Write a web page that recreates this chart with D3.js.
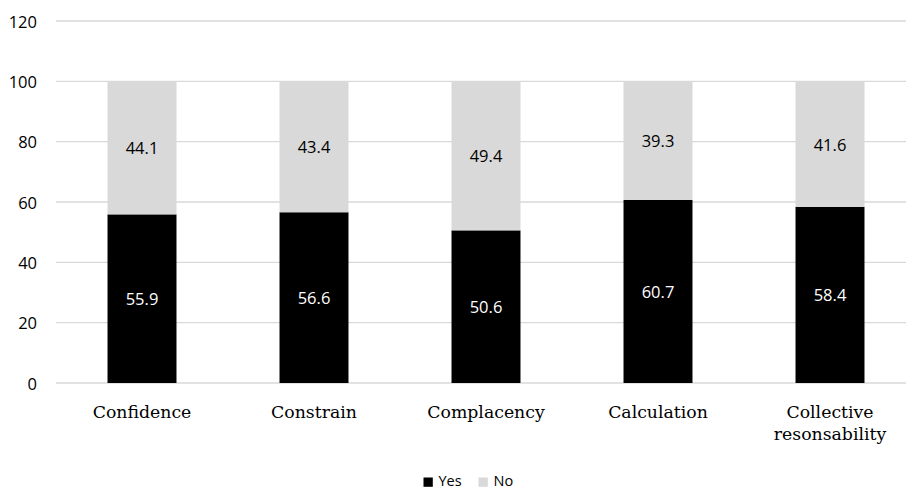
<!DOCTYPE html>
<html><head><meta charset="utf-8">
<script src="https://cdn.jsdelivr.net/npm/d3@7"></script>
<style>
html,body{margin:0;padding:0;background:#fff;}
svg{display:block;}
</style>
</head><body>
<svg id="chart" width="906" height="489"></svg>
<script>
const categories = ["Confidence", "Constrain", "Complacency", "Calculation", "Collective resonsability"];
const categoryLines = [["Confidence"], ["Constrain"], ["Complacency"], ["Calculation"], ["Collective", "resonsability"]];
const yesValues = [55.9, 56.6, 50.6, 60.7, 58.4];
const noValues = [44.1, 43.4, 49.4, 39.3, 41.6];
const yTicks = [0, 20, 40, 60, 80, 100, 120];
const seriesNames = ["Yes", "No"];
const seriesColors = ["#000000", "#d9d9d9"];

const svg = d3.select("#chart");
const y = d3.scaleLinear().domain([0, 120]).range([383, 21]);
const x = d3.scaleBand().domain(categories).range([56, 916]).paddingInner(0).paddingOuter(0);
const barW = x.bandwidth() * 0.401;

// gridlines
svg.append("g").selectAll("line").data(yTicks).join("line")
  .attr("x1", 56).attr("x2", 916)
  .attr("y1", d => y(d)).attr("y2", d => y(d))
  .attr("stroke", "#d9d9d9").attr("stroke-width", 1.3);

// y tick labels
svg.append("g").selectAll("text").data(yTicks).join("text")
  .attr("x", 37).attr("y", d => y(d))
  .attr("text-anchor", "end").attr("dominant-baseline", "central")
  .attr("font-family", "'Open Sans', sans-serif").attr("font-size", 16.5)
  .attr("fill", "#000").text(d => d);

const stacked = categories.map((c, i) => ({cat: c, yes: yesValues[i], no: noValues[i]}));
const series = d3.stack().keys(["yes", "no"])(stacked);

const g = svg.append("g");
series.forEach((s, si) => {
  g.selectAll(null).data(s).join("rect")
    .attr("x", d => x(d.data.cat) + x.bandwidth() / 2 - barW / 2)
    .attr("width", barW)
    .attr("y", d => y(d[1]))
    .attr("height", d => y(d[0]) - y(d[1]))
    .attr("fill", seriesColors[si]);
  g.selectAll(null).data(s).join("text")
    .attr("x", d => x(d.data.cat) + x.bandwidth() / 2)
    .attr("y", d => y((d[0] + d[1]) / 2))
    .attr("text-anchor", "middle").attr("dominant-baseline", "central")
    .attr("font-family", "'Open Sans', sans-serif").attr("font-size", 16.5)
    .attr("fill", si === 0 ? "#fff" : "#000")
    .text(d => d.data[s.key].toFixed(1));
});

// x labels
const xl = svg.append("g");
categories.forEach((c, i) => {
  const t = xl.append("text")
    .attr("x", x(c) + x.bandwidth() / 2).attr("y", 417.5)
    .attr("text-anchor", "middle")
    .attr("font-family", "'DejaVu Serif', serif").attr("font-size", 17.3)
    .attr("fill", "#000");
  categoryLines[i].forEach((ln, j) => {
    t.append("tspan").attr("x", x(c) + x.bandwidth() / 2).attr("dy", j === 0 ? 0 : 22).text(ln);
  });
});

// legend
const legX = [423.5, 478.5];
const leg = svg.append("g");
seriesNames.forEach((n, i) => {
  leg.append("rect").attr("x", legX[i]).attr("y", 477.5).attr("width", 9.3).attr("height", 9.3).attr("fill", seriesColors[i]);
  leg.append("text").attr("x", legX[i] + 15).attr("y", 485.8)
    .attr("font-family", "'Open Sans', sans-serif").attr("font-size", 14.5)
    .attr("fill", "#000").text(n);
});
</script>
</body></html>
